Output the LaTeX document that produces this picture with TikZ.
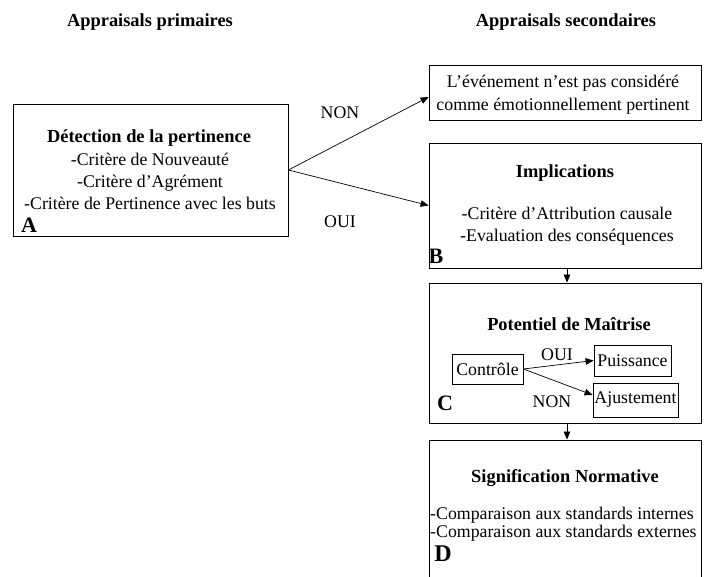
\documentclass[tikz,border=0pt]{standalone}
\usepackage{fontspec}
\setmainfont{Liberation Serif}
\usetikzlibrary{arrows.meta,calc}
\begin{document}
\begin{tikzpicture}[x=1pt,y=-1pt,
  font=\fontsize{17.8}{21.7}\selectfont,
  box/.style={draw, line width=0.8pt, inner sep=0pt},
  arr/.style={-{Triangle[length=8pt,width=6.5pt]}, line width=0.7pt},
  lbl/.style={font=\fontsize{22}{22}\selectfont\bfseries, inner sep=0pt},
  txt/.style={inner sep=0pt, align=center},
  ttl/.style={inner sep=0pt, font=\fontsize{18.4}{21.7}\selectfont\bfseries},
  hdr/.style={inner sep=0pt, font=\fontsize{18.4}{21.7}\selectfont\bfseries}]
\useasboundingbox (0,0) rectangle (704,577);
\clip (0,0) rectangle (704,577);

% headers
\node[hdr] (h1) at (150,22) {Appraisals primaires};
\node[hdr] (h2) at (566,22) {Appraisals secondaires};

% boxes
\node[box, minimum width=275pt, minimum height=132pt] (A) at (150.5,170) {};
\node[box, minimum width=272pt, minimum height=55pt] (N) at (565,92.5) {};
\node[box, minimum width=272pt, minimum height=125pt] (B) at (565,205.5) {};
\node[box, minimum width=272pt, minimum height=140pt] (C) at (565,353) {};
\node[box, minimum width=272pt, minimum height=160pt] (D) at (565,520) {};
\node[box, minimum width=71pt, minimum height=30pt] (ctrl) at (487.5,369) {Contrôle};
\node[box, minimum width=77pt, minimum height=31pt] (puis) at (632.5,360.5) {Puissance};
\node[box, minimum width=85pt, minimum height=34pt] (ajus) at (635.5,400) {Ajustement};

% texts
\node[ttl] (atitle) at (149,138) {Détection de la pertinence};
\node[txt] (at) at (150,181.5) {-Critère de Nouveauté\\-Critère d’Agrément\\-Critère de Pertinence avec les buts};
\node[lbl] (la) at (29,225) {A};

\node[txt, font=\fontsize{17.8}{23}\selectfont] (nt) at (563,95) {L’événement n’est pas considéré\\comme émotionnellement pertinent};

\node[ttl] (bt) at (565,173) {Implications};
\node[txt] (bl) at (567,226) {-Critère d’Attribution causale\\-Evaluation des conséquences};
\node[lbl] (lb) at (436,256) {B};

\node[ttl] (ct) at (569,324) {Potentiel de Maîtrise};
\node[inner sep=0pt] (coui) at (557,355) {OUI};
\node[inner sep=0pt] (cnon) at (552,402) {NON};
\node[lbl] (lc) at (445,403) {C};

\node[ttl] (dt) at (565,478) {Signification Normative};
\node[inner sep=0pt, align=left, anchor=west, font=\fontsize{17.8}{18.3}\selectfont] (dl) at (430,524) {-Comparaison aux standards internes\\-Comparaison aux standards externes};
\node[lbl, font=\fontsize{24}{24}\selectfont\bfseries] (ld) at (443,554) {D};

% connectors
\node[inner sep=0pt] (non) at (340,113) {NON};
\node[inner sep=0pt] (oui) at (340,222) {OUI};
\draw[arr] (A.east) -- ([yshift=-4.5pt]N.west);
\draw[arr] (A.east) -- (B.west);
\draw[arr] ([xshift=2pt]B.south) -- ([xshift=2pt]C.north);
\draw[arr] ([xshift=2pt]C.south) -- ([xshift=2pt]D.north);
\draw[arr] (ctrl.east) -- (puis.west);
\draw[arr] (ctrl.east) -- ([yshift=5pt]ajus.west);
\end{tikzpicture}
\end{document}
